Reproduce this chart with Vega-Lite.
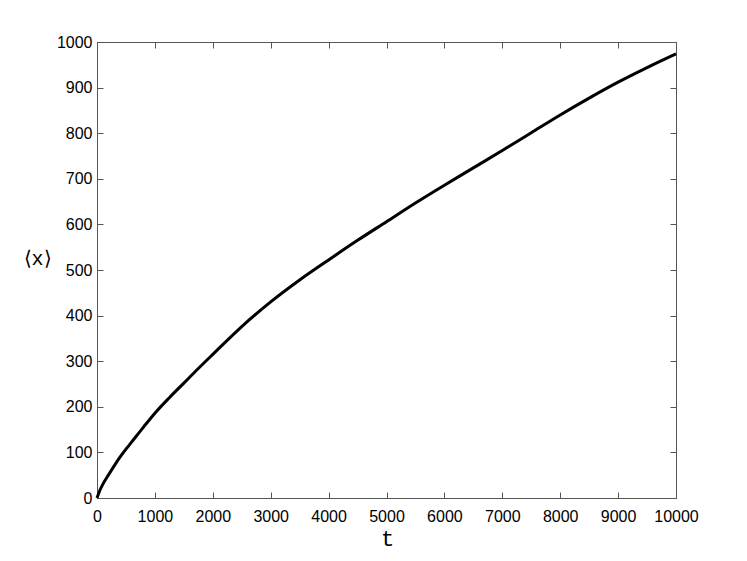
{
  "$schema": "https://vega.github.io/schema/vega-lite/v6.json",
  "width": 579,
  "height": 456,
  "autosize": {"type": "none"},
  "padding": {"left": 97, "top": 42, "right": 71, "bottom": 63},
  "background": "white",
  "config": {
    "view": {"stroke": "#555555", "strokeWidth": 1},
    "axis": {
      "grid": false,
      "domain": false,
      "offset": -6,
      "tickColor": "#555555",
      "tickSize": 6,
      "tickWidth": 1,
      "format": "d",
      "labelFont": "Liberation Sans",
      "labelFontSize": 16,
      "labelColor": "black",
      "titleColor": "black",
      "titleFontWeight": "normal"
    }
  },
  "data": {
    "values": [
      {"t": 0, "x": 0},
      {"t": 50, "x": 17},
      {"t": 100, "x": 30},
      {"t": 200, "x": 51},
      {"t": 300, "x": 71},
      {"t": 400, "x": 90},
      {"t": 500, "x": 107},
      {"t": 600, "x": 123},
      {"t": 800, "x": 155},
      {"t": 1000, "x": 186},
      {"t": 1250, "x": 220},
      {"t": 1500, "x": 252},
      {"t": 1750, "x": 284},
      {"t": 2000, "x": 315},
      {"t": 2500, "x": 376},
      {"t": 3000, "x": 430},
      {"t": 3500, "x": 478},
      {"t": 4000, "x": 522},
      {"t": 4500, "x": 565},
      {"t": 5000, "x": 606},
      {"t": 5500, "x": 647},
      {"t": 6000, "x": 686},
      {"t": 6500, "x": 724},
      {"t": 7000, "x": 762},
      {"t": 7500, "x": 801},
      {"t": 8000, "x": 840},
      {"t": 8500, "x": 877},
      {"t": 9000, "x": 912},
      {"t": 9500, "x": 944},
      {"t": 10000, "x": 974}
    ]
  },
  "resolve": {"axis": {"x": "independent", "y": "independent"}},
  "layer": [
    {
      "mark": {"type": "line", "color": "black", "strokeWidth": 3, "interpolate": "monotone"},
      "encoding": {
        "x": {
          "field": "t", "type": "quantitative",
          "scale": {"domain": [0, 10000], "nice": false},
          "axis": {
            "orient": "bottom",
            "values": [0, 1000, 2000, 3000, 4000, 5000, 6000, 7000, 8000, 9000, 10000],
            "labelPadding": 10,
            "labelFlush": false,
            "labelOverlap": false,
            "title": "t",
            "titleFont": "Liberation Mono",
            "titleFontSize": 22,
            "titleX": 290,
            "titleY": 46,
            "titleAlign": "center",
            "titleBaseline": "middle"
          }
        },
        "y": {
          "field": "x", "type": "quantitative",
          "scale": {"domain": [0, 1000], "nice": false},
          "axis": {
            "orient": "left",
            "values": [0, 100, 200, 300, 400, 500, 600, 700, 800, 900, 1000],
            "labelPadding": 5,
            "labelFlush": false,
            "labelOverlap": false,
            "title": "⟨x⟩",
            "titleFont": "Liberation Mono",
            "titleFontSize": 20,
            "titleAngle": 0,
            "titleX": -66,
            "titleY": 216,
            "titleAlign": "center",
            "titleBaseline": "middle"
          }
        }
      }
    },
    {
      "mark": {"type": "line", "color": "black", "strokeOpacity": 0},
      "encoding": {
        "x": {
          "field": "t", "type": "quantitative",
          "scale": {"domain": [0, 10000], "nice": false},
          "axis": {
            "orient": "top",
            "values": [0, 1000, 2000, 3000, 4000, 5000, 6000, 7000, 8000, 9000, 10000],
            "labels": false,
            "title": null
          }
        },
        "y": {
          "field": "x", "type": "quantitative",
          "scale": {"domain": [0, 1000], "nice": false},
          "axis": {
            "orient": "right",
            "values": [0, 100, 200, 300, 400, 500, 600, 700, 800, 900, 1000],
            "labels": false,
            "title": null
          }
        }
      }
    }
  ]
}
